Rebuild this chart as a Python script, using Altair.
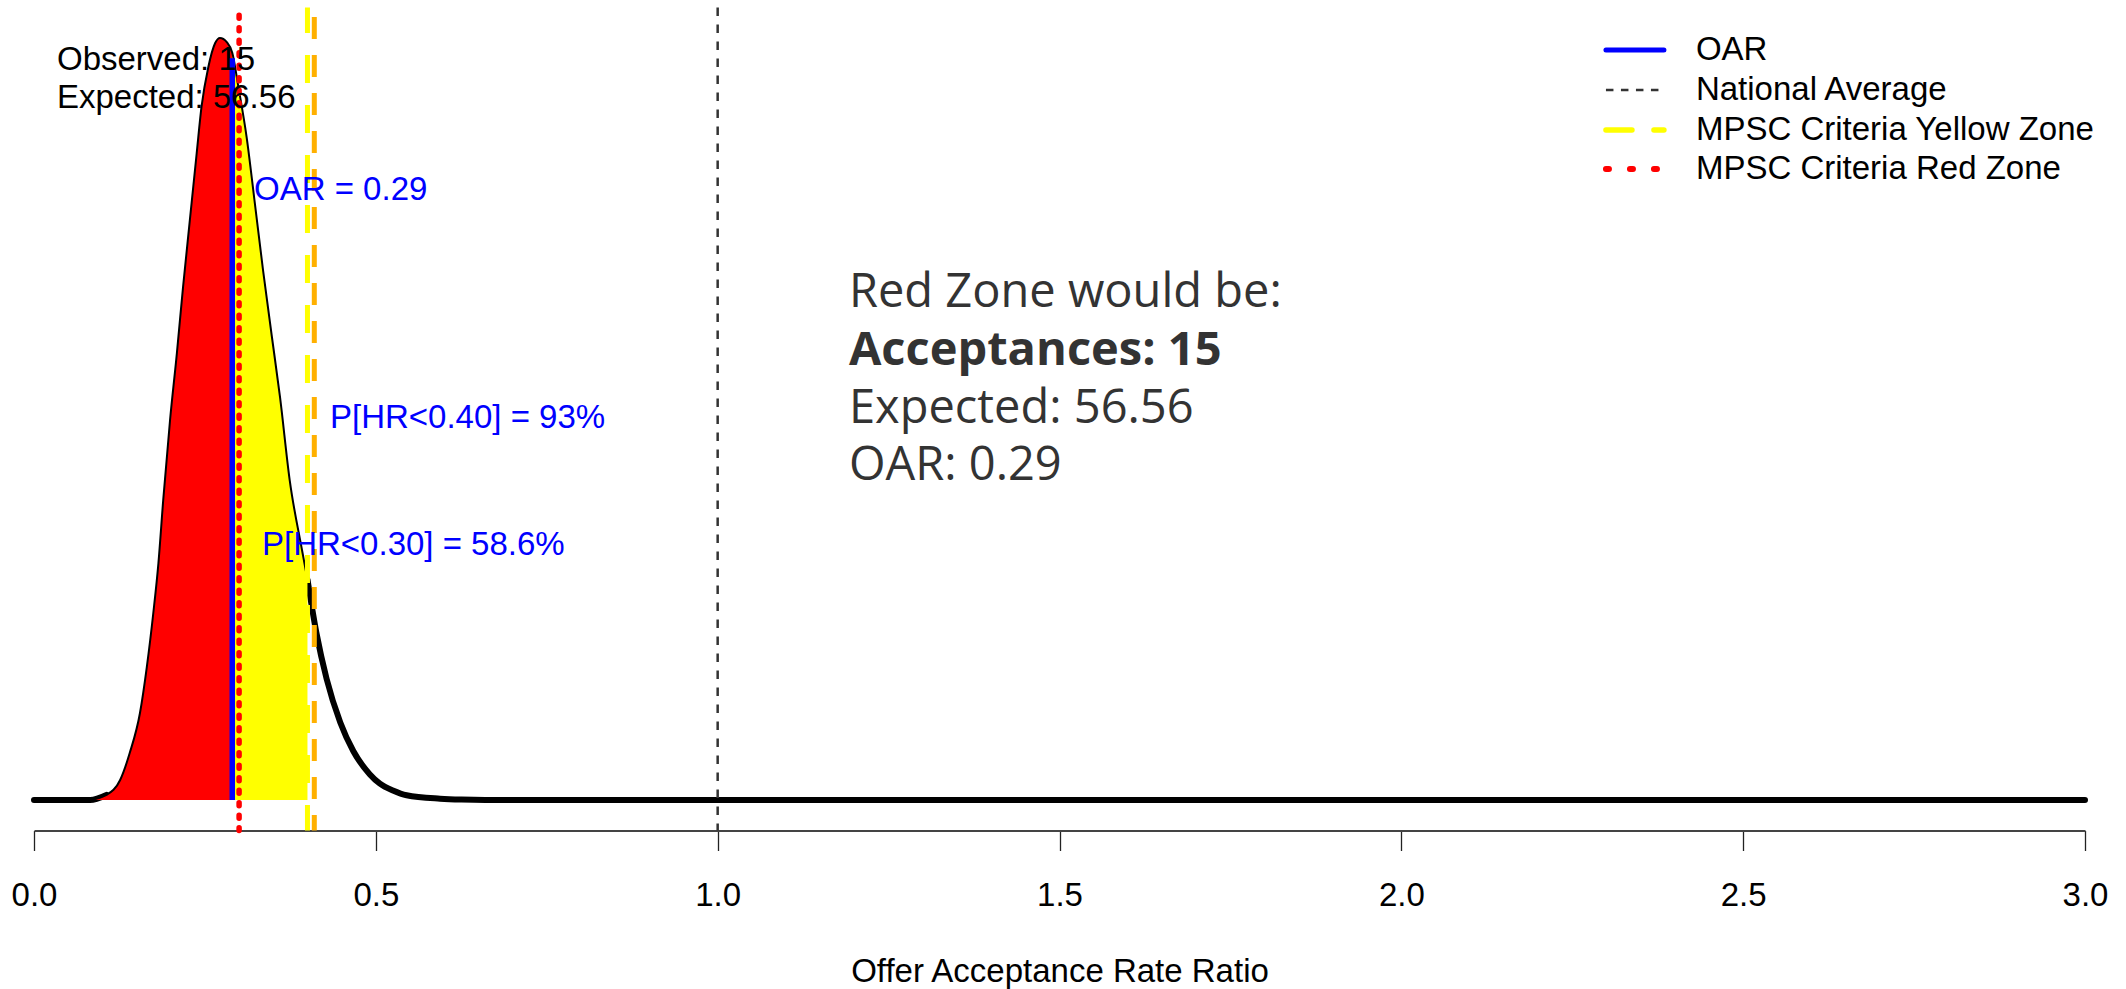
import altair as alt
import pandas as pd

# Posterior density of the offer acceptance rate ratio
ratio = [0.0, 0.082, 0.106, 0.126, 0.140, 0.155, 0.165, 0.1745, 0.182, 0.189,
         0.199, 0.209, 0.218, 0.228, 0.238, 0.245, 0.255, 0.265, 0.272, 0.282,
         0.290, 0.299, 0.311, 0.323, 0.335, 0.348, 0.360, 0.374, 0.392, 0.400,
         0.413, 0.428, 0.448, 0.467, 0.491, 0.506, 0.525, 0.545, 0.594, 0.625,
         0.66, 3.0]
density = [0.0, 0.0, 0.037, 0.147, 0.345, 0.639, 0.977, 1.374, 1.741, 2.204,
           2.792, 3.284, 3.769, 4.262, 4.754, 5.092, 5.386, 5.562, 5.599, 5.569,
           5.49, 5.239, 4.871, 4.386, 3.894, 3.402, 2.954, 2.351, 1.837, 1.62,
           1.23, 0.89, 0.57, 0.36, 0.19, 0.12, 0.07, 0.035, 0.01, 0.003,
           0.0, 0.0]

# Reference values
OAR = 0.29
OAR_TOP = 5.45
RED_CUT = 0.30
YELLOW_CUT = 0.40
YELLOW_EDGE = 0.41
NATIONAL = 1.0

tick_values = [0.0, 0.5, 1.0, 1.5, 2.0, 2.5, 3.0]

corner_lines = ["Observed: 15", "Expected: 56.56"]
blue_notes = ["OAR = 0.29", "P[HR<0.40] = 93%", "P[HR<0.30] = 58.6%"]
summary_lines = ["Red Zone would be:", "Expected: 56.56", "OAR: 0.29"]
summary_bold_line = ["Acceptances: 15"]
legend_labels = ["OAR", "National Average", "MPSC Criteria Yellow Zone", "MPSC Criteria Red Zone"]

Y_LO, Y_HI = -0.224, 5.823
R_FONT = "Liberation Sans"
R_SIZE = 33

curve = pd.DataFrame({"ratio": ratio, "density": density})

x_scale = alt.Scale(domain=[0, 3], nice=False, zero=False)
y_scale = alt.Scale(domain=[Y_LO, Y_HI], nice=False, zero=False)

x_axis = alt.Axis(
    values=tick_values, format=".1f", grid=False,
    labelFont=R_FONT, labelFontSize=R_SIZE, labelColor="black", labelPadding=29,
    labelFlush=False,
    tickColor="#222222", tickWidth=1.3, tickSize=20,
    domainColor="#444444", domainWidth=2.2,
    title="Offer Acceptance Rate Ratio", titleFont=R_FONT, titleFontSize=R_SIZE,
    titleFontWeight="normal", titleColor="black", titleY=151,
    titleBaseline="alphabetic",
)

X = alt.X("ratio:Q", scale=x_scale, axis=x_axis)
Xn = alt.X("ratio:Q", scale=x_scale)
X2 = alt.X2("ratio2:Q")
Y = alt.Y("density:Q", scale=y_scale, axis=None)

base = alt.Chart(curve)

# Heavy curve outside the shaded zones
line_style = dict(color="black", strokeWidth=6, interpolate="monotone",
                  strokeCap="round", strokeJoin="round")
thick_left = base.mark_line(**line_style).encode(x=X, y=Y).transform_filter(
    alt.datum.ratio <= 0.106)
thick_right = base.mark_line(**line_style).encode(x=Xn, y=Y).transform_filter(
    alt.datum.ratio >= YELLOW_CUT)

red_fill = base.mark_area(color="#FF0000", opacity=1, interpolate="monotone").encode(
    x=Xn, y=Y, y2=alt.Y2("zero:Q")
).transform_filter(alt.datum.ratio <= OAR).transform_calculate(zero="0")

yellow_fill = base.mark_area(color="#FFFF00", opacity=1, interpolate="monotone").encode(
    x=Xn, y=Y, y2=alt.Y2("zero:Q")
).transform_filter(
    (alt.datum.ratio >= OAR) & (alt.datum.ratio <= YELLOW_CUT)
).transform_calculate(zero="0")

# Thin border along the top of the shaded zones
thin_outline = base.mark_line(color="black", strokeWidth=2, interpolate="monotone").encode(
    x=Xn, y=Y
).transform_filter((alt.datum.ratio >= 0.082) & (alt.datum.ratio <= YELLOW_CUT))


def vline(value, color, width, dash=None, offset=0, cap="butt", lo=Y_LO, hi=Y_HI):
    kw = dict(color=color, strokeWidth=width, strokeCap=cap)
    if dash:
        kw["strokeDash"] = dash
        kw["strokeDashOffset"] = offset
    df = pd.DataFrame({"ratio": [value], "density": [hi], "top": [lo]})
    return alt.Chart(df).mark_rule(**kw).encode(x=Xn, y=Y, y2=alt.Y2("top:Q"))


national_line = vline(NATIONAL, "#333333", 2.5, [8.5, 8.5])
yellow_line = vline(YELLOW_CUT, "#FFFF00", 5, [28, 22], 2.5)
orange_line = vline(YELLOW_EDGE, "#FFB000", 5, [22, 16], 28.5)
red_line = vline(RED_CUT, "#FF0000", 5.5, [3, 9.5], 4.75, "round")
oar_segment = vline(OAR, "#0000FF", 5.5, lo=0, hi=OAR_TOP)

corner_df = pd.DataFrame({"ratio": [0.0336, 0.0336], "density": [5.437, 5.158],
                          "label": corner_lines})
corner_text = alt.Chart(corner_df).mark_text(
    align="left", baseline="middle", font=R_FONT, fontSize=R_SIZE, color="black"
).encode(x=Xn, y=Y, text="label:N")

blue_df = pd.DataFrame({"ratio": [0.3218, 0.4329, 0.3335],
                        "density": [4.482, 2.807, 1.874], "label": blue_notes})
blue_text = alt.Chart(blue_df).mark_text(
    align="left", baseline="middle", font=R_FONT, fontSize=R_SIZE, color="#0000FF"
).encode(x=Xn, y=Y, text="label:N")

summary_df = pd.DataFrame({"ratio": [1.192] * 3,
                           "density": [3.622, 2.770, 2.351],
                           "label": summary_lines})
summary_plain = alt.Chart(summary_df).mark_text(
    align="left", baseline="alphabetic", font="Open Sans", fontSize=47, color="#333333"
).encode(x=Xn, y=Y, text="label:N")
summary_bold_df = pd.DataFrame({"ratio": [1.192], "density": [3.196],
                                "label": summary_bold_line})
summary_bold = alt.Chart(summary_bold_df).mark_text(
    align="left", baseline="alphabetic", font="Open Sans", fontSize=47, color="#333333",
    fontWeight="bold"
).encode(x=Xn, y=Y, text="label:N")

# Legend in the top-right corner, placed in data units
legend_styles = [
    dict(color="#0000FF", strokeWidth=5, strokeCap="round"),
    dict(color="#333333", strokeWidth=2.5, strokeDash=[7.5, 7.5]),
    dict(color="#FFFF00", strokeWidth=5.5, strokeDash=[26, 22], strokeCap="round"),
    dict(color="#FF0000", strokeWidth=6, strokeDash=[3, 21], strokeCap="round"),
]
legend_rows = [5.511, 5.217, 4.923, 4.636]
legend_layers = []
for lab, style, row in zip(legend_labels, legend_styles, legend_rows):
    seg = pd.DataFrame({"ratio": [2.2993], "ratio2": [2.3841], "density": [row]})
    legend_layers.append(alt.Chart(seg).mark_rule(**style).encode(x=Xn, x2=X2, y=Y))
    txt = pd.DataFrame({"ratio": [2.4309], "density": [row], "label": [lab]})
    legend_layers.append(
        alt.Chart(txt).mark_text(align="left", baseline="middle", font=R_FONT,
                                 fontSize=R_SIZE, color="black").encode(x=Xn, y=Y, text="label:N")
    )

chart = alt.layer(
    thick_left, thick_right, red_fill, yellow_fill, thin_outline,
    national_line, yellow_line, orange_line, red_line, oar_segment,
    corner_text, blue_text, summary_plain, summary_bold, *legend_layers
).properties(
    width=2051, height=823,
    autosize=alt.AutoSizeParams(type="none"),
    padding={"left": 34, "top": 7.5, "right": 41, "bottom": 158.5},
    background="white",
).configure_view(stroke=None)

chart.save("out.html", embed_options={"renderer": "svg", "actions": False})
